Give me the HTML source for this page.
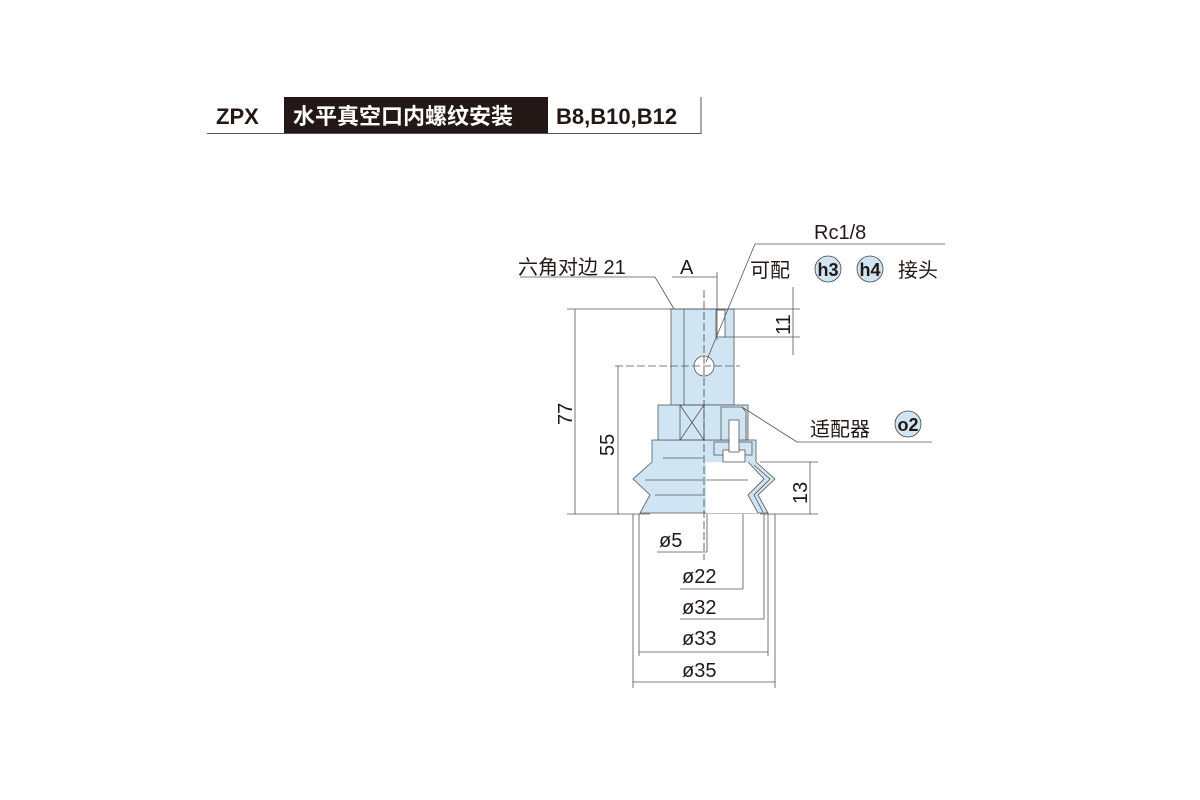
<!DOCTYPE html>
<html><head><meta charset="utf-8"><style>
body{margin:0;background:#fff;}
svg{display:block;}
text{font-family:"Liberation Sans","Noto Sans CJK SC",sans-serif;fill:#231815;}
</style></head><body>
<svg width="1200" height="800" viewBox="0 0 1200 800" xmlns="http://www.w3.org/2000/svg">
<rect x="284" y="97" width="264" height="36" fill="#231815"/>
<text x="216" y="124" font-size="22" font-weight="bold">ZPX</text>
<text x="293" y="124" font-size="22" font-weight="bold" style="fill:#fff">水平真空口内螺纹安装</text>
<text x="556" y="124" font-size="22" font-weight="bold">B8,B10,B12</text>
<line x1="207" y1="133.5" x2="701" y2="133.5" stroke="#555" stroke-width="1"/>
<line x1="701" y1="97" x2="701" y2="134" stroke="#555" stroke-width="1"/>

<g stroke="#555" stroke-width="0.8" fill="none">
<path d="M652,440 L756,440 L756,462 L775,479 L758,495 L768,513 L640,513 L650,495 L633,479 L652,462 Z" fill="#cfe5f3"/>
<path d="M706,462 L748,462 L764,479 L748,495 L758,513 L706,513 Z" fill="#fff" stroke="none"/>
<path d="M748,462 L764,479 L748,495 L758,513" />
<path d="M754,465 L770,479 L754,495 L763,512" />
<rect x="671" y="309" width="63" height="96" fill="#cfe5f3"/>
<line x1="684" y1="309" x2="684" y2="405"/>
<rect x="716" y="310" width="9" height="27" fill="#fff"/>
<rect x="658" y="405" width="90" height="35" fill="#cfe5f3"/>
<rect x="680" y="405" width="24" height="35"/>
<line x1="680" y1="405" x2="704" y2="440"/><line x1="704" y1="405" x2="680" y2="440"/>
<path d="M721,440 L721,407 L742,407 L746,412 L746,440"/>
<rect x="714" y="442" width="38" height="13" fill="#cfe5f3"/>
<rect x="723" y="450" width="22" height="12" fill="#fff"/>
<rect x="729" y="420" width="10" height="32" fill="#fff"/>
<circle cx="704" cy="366" r="10" fill="#fff"/>
<line x1="663" y1="458" x2="703" y2="458"/><line x1="645" y1="480" x2="703" y2="480"/><line x1="655" y1="495" x2="703" y2="495"/>
<line x1="706" y1="480" x2="748" y2="480"/>
<line x1="704" y1="290" x2="704" y2="560" stroke-dasharray="8,3" stroke="#444"/>
<line x1="615" y1="366" x2="740" y2="366" stroke-dasharray="8,3"/>

<line x1="520" y1="277" x2="655" y2="277"/><line x1="655" y1="277" x2="674" y2="309"/>
<line x1="672" y1="277" x2="717" y2="277"/><line x1="717" y1="272" x2="717" y2="340"/>
<line x1="755" y1="244" x2="945" y2="244"/><line x1="755" y1="244" x2="706" y2="362"/>
<line x1="793" y1="287" x2="793" y2="355"/>
<line x1="742" y1="407" x2="797" y2="442"/><line x1="797" y1="442" x2="932" y2="442"/>
<line x1="567" y1="309" x2="800" y2="309"/>
<line x1="575" y1="309" x2="575" y2="514"/>
<line x1="567" y1="514" x2="650" y2="514"/>
<line x1="618" y1="366" x2="618" y2="514"/>
<line x1="725" y1="337" x2="800" y2="337"/>
<line x1="760" y1="462" x2="818" y2="462"/>
<line x1="810" y1="462" x2="810" y2="514"/>
<line x1="760" y1="514" x2="818" y2="514"/>
<line x1="707" y1="514" x2="707" y2="552"/><line x1="657" y1="552" x2="707" y2="552"/>
<line x1="743" y1="514" x2="743" y2="589"/><line x1="680" y1="589" x2="743" y2="589"/>
<line x1="764" y1="514" x2="764" y2="619"/><line x1="680" y1="619" x2="764" y2="619"/>
<line x1="639" y1="514" x2="639" y2="656"/><line x1="768" y1="514" x2="768" y2="656"/><line x1="639" y1="652" x2="768" y2="652"/>
<line x1="633" y1="514" x2="633" y2="688"/><line x1="775" y1="514" x2="775" y2="688"/><line x1="633" y1="682" x2="775" y2="682"/>
</g>
<g fill="#cfe5f3" stroke="#444" stroke-width="0.8">
<circle cx="828" cy="269" r="13"/><circle cx="870" cy="269" r="13"/><circle cx="908" cy="424" r="13"/>
</g>
<g font-size="20">
<text x="518" y="274">六角对边 21</text>
<text x="680" y="274">A</text>
<text x="814" y="239">Rc1/8</text>
<text x="750" y="277">可配</text>
<text x="828" y="276" text-anchor="middle" font-weight="bold" font-size="18">h3</text>
<text x="870" y="276" text-anchor="middle" font-weight="bold" font-size="18">h4</text>
<text x="898" y="277">接头</text>
<text x="810" y="436">适配器</text>
<text x="908" y="431" text-anchor="middle" font-weight="bold" font-size="18">o2</text>
<text x="659" y="547">ø5</text>
<text x="682" y="583">ø22</text>
<text x="682" y="614">ø32</text>
<text x="682" y="645">ø33</text>
<text x="682" y="677">ø35</text>
<text transform="translate(572,425) rotate(-90)">77</text>
<text transform="translate(614,456) rotate(-90)">55</text>
<text transform="translate(790,335) rotate(-90)">11</text>
<text transform="translate(807,504) rotate(-90)">13</text>
</g>
</svg>
</body></html>
